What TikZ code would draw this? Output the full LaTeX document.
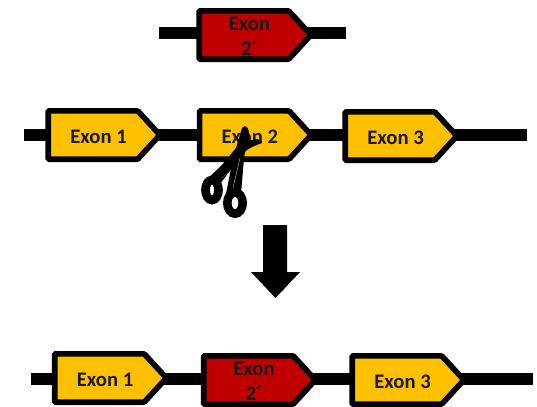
\documentclass[tikz,border=0pt]{standalone}
\usepackage{fontspec}
\setmainfont{Carlito}
\usetikzlibrary{shapes.symbols}
\definecolor{exon yellow}{RGB}{255,192,0}
\definecolor{exon red}{RGB}{192,0,0}
\newcommand{\exonname}[1]{\hspace*{8.3pt}\raisebox{-6.2pt}[0pt][0pt]{\begin{tabular}{@{}c@{}}#1\end{tabular}}}
\tikzset{exon/.style={signal, signal to=east, signal pointer angle=95, draw=black, line width=4.2pt,
        rounded corners=0.8pt, outer sep=0pt, inner sep=0pt, minimum width=83.7pt, minimum height=36.3pt,
        font=\bfseries\fontsize{15.5}{17}\selectfont, text=black!90},
    normal/.style={exon, fill=exon yellow},
    edited/.style={exon, fill=exon red},
    backbone/.style={line width=9pt}}
\begin{document}
\begin{tikzpicture}[x=0.75pt,y=-0.75pt]
    \useasboundingbox (0,0) rectangle (537,407);
    % Replacement exon
    \coordinate (topL) at (159,33);
    \coordinate (topR) at (346,33);
    \draw[backbone] (topL) -- (topR);
    \node[edited] (exTop) at (244,35) {\exonname{Exon\\[1.5pt]2´}};
    %
    % Original gene
    \coordinate (midL) at (24,135);
    \coordinate (midR) at (527,135);
    \draw[backbone] (midL) -- (midR);
    \node[normal] (exA) at (93,135) {\exonname{Exon 1}};
    \node[normal] (exB) at (244.3,135) {\exonname{Exon 2}};
    \node[normal] (exC) at (390,136) {\exonname{Exon 3}};
    %
    % Scissors
    \begin{scope}[local bounding box = scissors]
    \fill (262,143) to[out=200,in=60] (238,160) -- (220,184) -- (206,180) -- (222,165) -- (236,148)
        to[out=40,in=190] (257,139) to[out=0,in=90] cycle;
    \fill (247,127) to[out=-60,in=85] (244,158) -- (241,194) -- (226,194) -- (233,158) -- (242,128)
        to[out=70,in=120] cycle;
    \draw[white,very thin] (240,158) -- (233,188);
    \draw[gray,very thin] (222,178) -- (231,170);
    \draw[line width=6.5pt] (212,190) ellipse [x radius=6.5, y radius=10];
    \draw[line width=6.4pt] (235,203) ellipse [x radius=7.7, y radius=10.7];
    \end{scope}
    %
    % Arrow down
    \fill (263,225) -- (287,225) -- (287,272) -- (300,272) -- (275.5,298) -- (251,272) -- (263,272) -- cycle;
    %
    % Edited gene
    \coordinate (lowL) at (31,379);
    \coordinate (lowR) at (533,379);
    \draw[backbone] (lowL) -- (lowR);
    \node[normal] (newA) at (99.5,378) {\exonname{Exon 1}};
    \node[edited] (newB) at (248.5,380) {\exonname{Exon\\[1.5pt]2´}};
    \node[normal] (newC) at (397,380) {\exonname{Exon 3}};
\end{tikzpicture}
\end{document}
